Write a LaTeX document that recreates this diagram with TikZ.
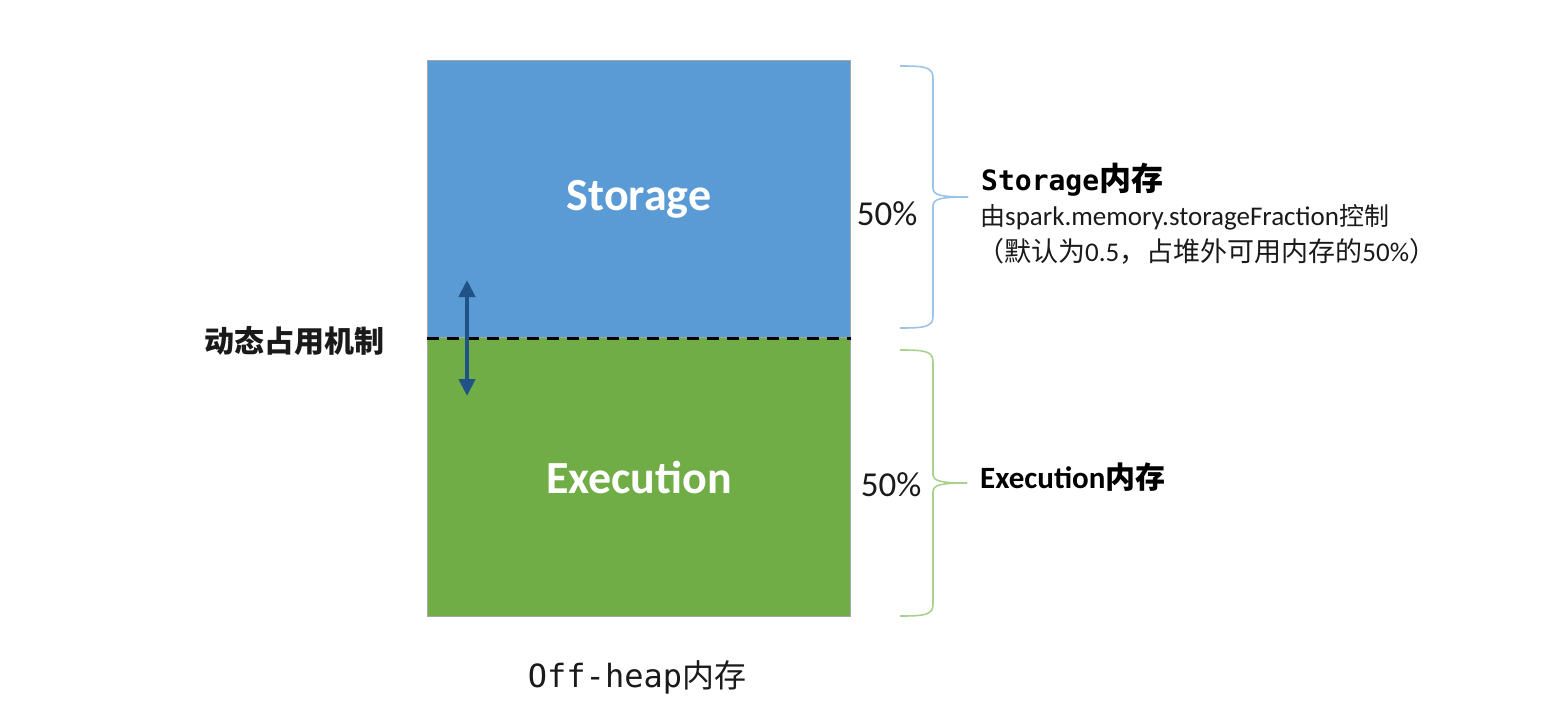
\documentclass[tikz,border=0pt]{standalone}
\usepackage{fontspec}
\setmainfont{Carlito}
\newfontfamily\cjk{Noto Sans CJK SC}
\newfontfamily\mono{DejaVu Sans Mono}
\usetikzlibrary{arrows.meta}
\definecolor{stblue}{HTML}{5B9BD5}
\definecolor{exgreen}{HTML}{70AD47}
\definecolor{arrblue}{HTML}{1F5286}
\definecolor{brblue}{HTML}{9DC3E6}
\definecolor{brgreen}{HTML}{A9D18E}
\definecolor{txt}{HTML}{1A1A1A}
\tikzset{
  membox/.style={draw=gray!70, line width=1pt, minimum width=423pt, anchor=north west, inner sep=0pt, text=white},
  bigtxt/.style={font=\fontsize{46}{52}\selectfont\bfseries},
  pct/.style={font=\fontsize{35}{40}\selectfont, text=txt},
  brace/.style={line width=1.6pt},
}
\begin{document}
\begin{tikzpicture}[x=1pt,y=-1pt]
\useasboundingbox (0,0) rectangle (1558,714);
\node[membox, fill=stblue, minimum height=277pt, bigtxt] (st) at (427,60) {Storage};
\node[membox, fill=exgreen, minimum height=279pt, bigtxt, anchor=north west] (ex) at (427,337) {Execution};
\draw[black, line width=3pt, dash pattern=on 12pt off 8pt] (st.south west) -- (st.south east);
\coordinate (aup) at (467,280);
\coordinate (adn) at (467,396);
\draw[arrblue, line width=4pt, {Triangle[width=16pt,length=17pt]}-{Triangle[width=16pt,length=17pt]}] (aup) -- (adn);
\node[font=\fontsize{30}{34}\selectfont\bfseries\cjk, text=txt, anchor=west, inner sep=0pt] (dyn) at (204,341) {动态占用机制};
% braces
\coordinate (b1t) at (900,66);
\coordinate (b1m) at (968,197);
\coordinate (b1b) at (900,328);
\draw[brblue, brace] (b1t) .. controls (925,66) and (933,67) .. (933,78) -- (933,188) .. controls (933,195) and (940,197) .. (b1m);
\draw[brblue, brace] (b1b) .. controls (925,328) and (933,327) .. (933,316) -- (933,206) .. controls (933,199) and (940,197) .. (b1m);
\coordinate (b2t) at (900,350);
\coordinate (b2m) at (967,483);
\coordinate (b2b) at (900,616);
\draw[brgreen, brace] (b2t) .. controls (925,350) and (933,351) .. (933,362) -- (933,474) .. controls (933,481) and (940,483) .. (b2m);
\draw[brgreen, brace] (b2b) .. controls (925,616) and (933,615) .. (933,604) -- (933,492) .. controls (933,485) and (940,483) .. (b2m);
\node[pct] (p1) at (887,214) {50\%};
\node[pct] (p2) at (891,485) {50\%};
\node[anchor=west, inner sep=0pt, text=black] (sl) at (981,180) {{\mono\fontsize{28}{32}\selectfont\bfseries Storage}{\cjk\fontsize{32}{34}\selectfont\bfseries 内存}};
\node[anchor=west, inner sep=0pt, text=txt, font=\fontsize{27}{30}\selectfont] (sl2) at (980,217) {{\cjk\fontsize{25}{30}\selectfont 由}spark.memory.storageFraction{\cjk\fontsize{25}{30}\selectfont 控制}};
\node[anchor=west, inner sep=0pt, text=txt, font=\fontsize{27}{30}\selectfont] (sl3) at (977,251) {{\cjk\fontsize{27}{30}\selectfont （默认为}0.5{\cjk\fontsize{27}{30}\selectfont ，占堆外可用内存的}50\%{\cjk\fontsize{27}{30}\selectfont ）}};
\node[anchor=west, inner sep=0pt, text=black, font=\fontsize{31}{34}\selectfont\bfseries] (el) at (980,477) {Execution{\cjk\fontsize{30}{34}\selectfont\bfseries 内存}};
\node[text=txt, font=\fontsize{32}{36}\selectfont] (off) at (637,677) {{\mono Off-heap}{\cjk 内存}};
\end{tikzpicture}
\end{document}
